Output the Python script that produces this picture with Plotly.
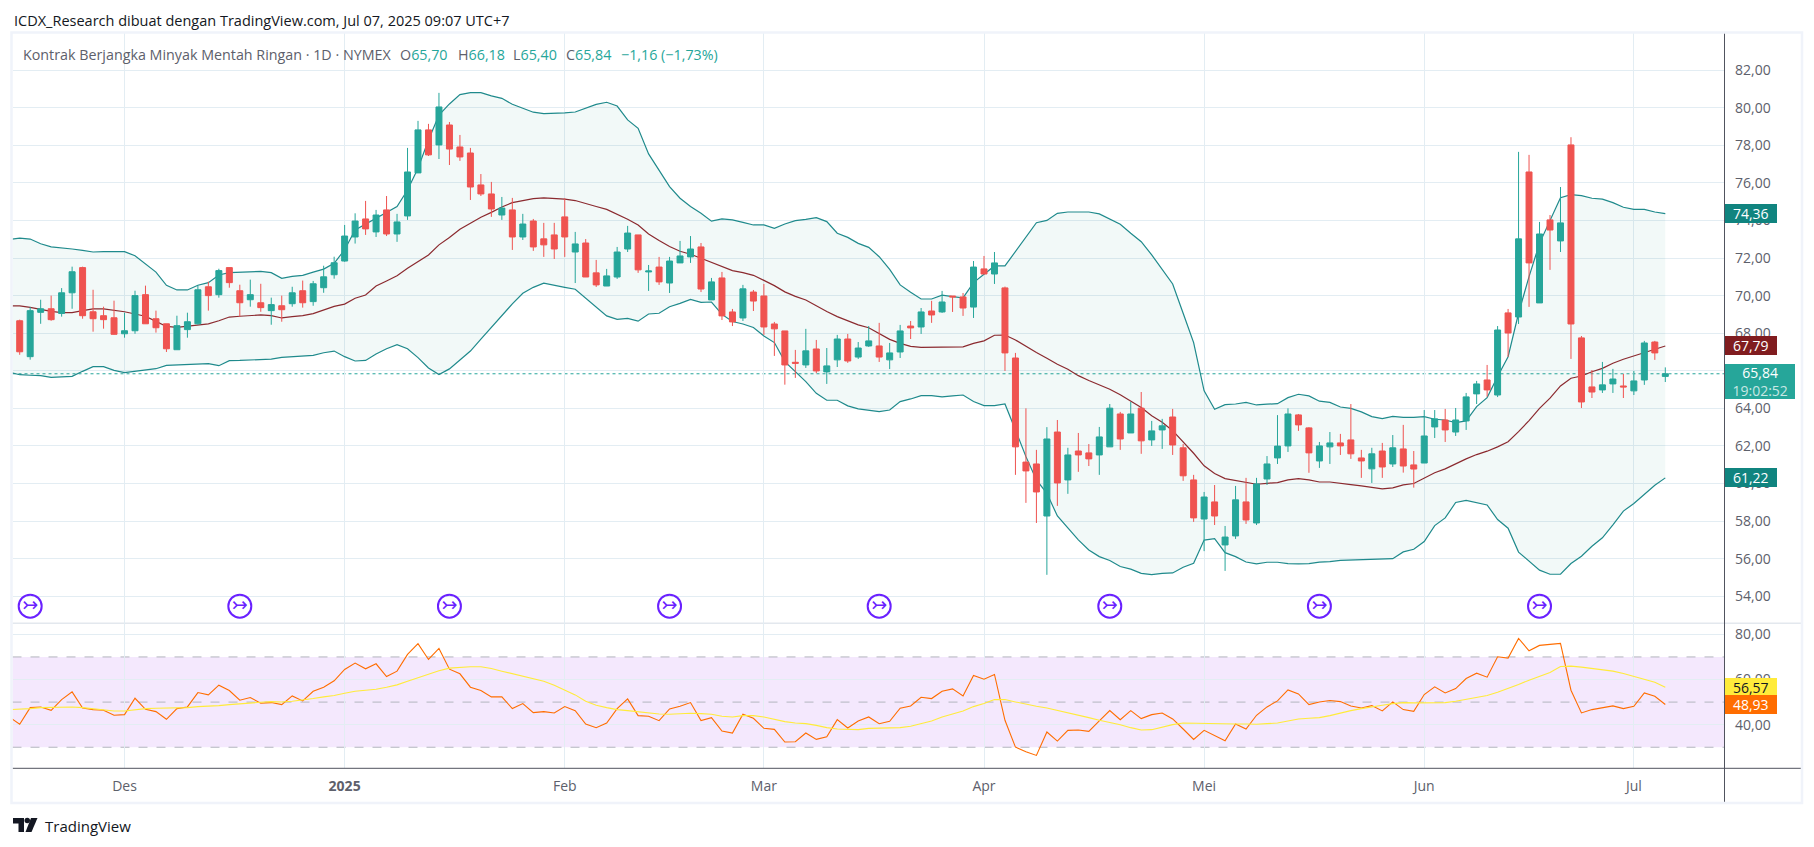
import plotly.graph_objects as go

# Satu baris = 10 bar
opens = [
    68.66, 66.75, 69.11, 69.3, 69.05, 70.15, 71.49, 69.14, 68.93, 68.82,
    67.97, 68.13, 70.05, 68.77, 68.5, 67.12, 68.19, 68.5, 70.47, 70.05,
    71.49, 70.26, 69.78, 69.62, 69.2, 69.46, 69.57, 70.26, 69.68, 70.42,
    71.11, 71.84, 73.12, 74.08, 73.39, 74.56, 73.28, 74.24, 76.53, 78.82,
    78.02, 79.08, 77.91, 77.59, 75.89, 75.41, 74.29, 74.56, 73.12, 73.97,
    73.02, 73.23, 74.19, 72.32, 72.8, 71.21, 70.51, 70.99, 72.48, 73.23,
    71.26, 71.52, 70.67, 71.74, 72.06, 72.59, 69.77, 70.94, 69.13, 68.81,
    70.19, 69.98, 68.49, 68.12, 66.45, 66.31, 67.16, 65.94, 66.58, 67.69,
    66.73, 67.32, 67.32, 66.58, 67.0, 68.38, 68.33, 69.18, 69.13, 69.98,
    69.93, 69.39, 71.42, 71.15, 70.41, 66.68, 61.14, 61.04, 58.27, 62.74,
    60.19, 61.73, 61.63, 61.52, 61.95, 63.7, 62.69, 64.01, 62.32, 62.85,
    63.54, 61.9, 60.19, 58.11, 59.02, 56.73, 57.21, 59.02, 57.9, 60.24,
    61.36, 62.0, 63.65, 62.96, 61.2, 61.95, 62.16, 62.32, 61.36, 60.78,
    61.73, 61.04, 61.84, 60.99, 61.09, 63.01, 63.38, 62.74, 63.33, 64.77,
    65.51, 64.71, 69.08, 68.86, 76.58, 69.61, 74.03, 72.91, 78.02, 67.75,
    65.14, 64.98, 65.3, 65.19, 64.93, 65.51, 67.53, 65.70,
]
highs = [
    68.72, 69.39, 69.78, 70.0, 70.4, 71.54, 71.54, 70.31, 69.41, 69.73,
    69.09, 70.26, 70.53, 69.2, 68.5, 68.93, 69.09, 70.53, 70.74, 71.43,
    71.49, 70.58, 70.85, 70.63, 69.89, 70.0, 70.47, 70.8, 70.78, 71.59,
    72.07, 73.76, 74.38, 75.04, 74.56, 75.3, 74.35, 77.86, 79.3, 79.14,
    80.79, 79.24, 78.55, 77.86, 76.47, 76.05, 75.25, 75.2, 74.35, 74.08,
    73.87, 73.87, 75.18, 73.39, 73.01, 71.9, 71.42, 72.59, 73.71, 73.23,
    71.63, 72.06, 72.06, 72.91, 73.17, 72.8, 70.94, 71.26, 69.29, 70.57,
    70.3, 70.62, 68.6, 68.12, 67.11, 68.23, 67.64, 67.21, 67.91, 67.96,
    67.53, 68.38, 68.55, 67.48, 68.44, 68.65, 69.34, 69.72, 70.25, 69.98,
    70.14, 71.84, 72.11, 72.32, 70.48, 66.95, 64.0, 61.79, 63.0, 63.38,
    61.9, 62.69, 62.1, 63.01, 64.23, 63.81, 64.34, 64.87, 63.33, 63.44,
    63.97, 62.1, 60.46, 59.55, 59.92, 57.74, 59.87, 60.3, 60.3, 61.46,
    63.64, 64.0, 63.7, 63.0, 62.21, 62.74, 62.64, 64.23, 61.79, 61.9,
    62.16, 62.58, 63.12, 61.73, 63.91, 63.91, 63.97, 64.02, 64.82, 65.46,
    66.31, 68.38, 69.29, 77.65, 77.49, 73.92, 74.29, 75.78, 78.43, 67.85,
    66.04, 66.47, 66.1, 65.83, 65.99, 67.59, 67.59, 66.18,
]
lows = [
    66.85, 66.59, 68.5, 68.66, 68.88, 69.3, 68.77, 68.08, 68.24, 67.92,
    67.76, 67.97, 68.5, 68.03, 67.0, 67.12, 67.76, 68.45, 69.2, 69.89,
    70.42, 68.88, 69.41, 69.14, 68.45, 68.61, 69.41, 69.36, 69.46, 70.15,
    70.9, 71.8, 72.77, 73.23, 73.12, 73.17, 72.86, 74.03, 76.53, 77.43,
    77.27, 76.95, 77.17, 75.09, 75.3, 74.19, 74.03, 72.43, 72.96, 72.38,
    72.06, 71.95, 72.06, 70.67, 70.99, 70.46, 70.51, 70.89, 72.32, 71.21,
    70.25, 70.57, 70.14, 71.74, 71.74, 70.19, 69.77, 68.7, 68.38, 68.65,
    69.18, 67.91, 66.79, 65.26, 65.62, 66.15, 65.87, 65.3, 66.2, 66.42,
    66.63, 67.27, 66.47, 66.09, 66.68, 67.69, 67.96, 68.55, 69.08, 69.13,
    68.92, 68.81, 71.15, 70.62, 65.99, 60.46, 58.97, 57.9, 55.14, 58.81,
    59.45, 60.62, 60.93, 60.46, 61.95, 61.79, 62.69, 61.58, 62.0, 61.84,
    61.52, 60.14, 57.96, 56.4, 57.79, 55.35, 57.05, 57.85, 57.79, 59.92,
    61.04, 61.68, 62.8, 60.57, 60.83, 61.04, 61.52, 61.31, 60.3, 60.03,
    60.3, 60.88, 60.58, 59.78, 61.09, 62.42, 62.21, 62.53, 62.85, 64.23,
    64.62, 64.6, 66.74, 68.49, 69.4, 69.61, 71.37, 72.32, 66.63, 64.02,
    64.55, 64.82, 64.82, 64.55, 64.71, 65.25, 66.58, 65.40,
]
closes = [
    67.01, 69.2, 69.3, 68.72, 70.15, 71.27, 68.93, 68.77, 68.72, 67.94,
    68.13, 70.0, 68.5, 68.29, 67.17, 68.4, 68.61, 70.31, 70.0, 71.33,
    70.69, 69.62, 70.05, 69.36, 69.52, 69.25, 70.15, 69.62, 70.63, 71.0,
    71.75, 73.17, 73.97, 73.55, 74.29, 73.28, 73.92, 76.58, 78.82, 77.49,
    80.04, 77.8, 77.38, 75.78, 75.41, 74.61, 74.66, 73.12, 73.81, 72.59,
    72.7, 72.48, 73.12, 72.75, 70.99, 70.57, 71.05, 72.32, 73.33, 71.37,
    71.31, 70.73, 71.84, 72.11, 72.48, 70.35, 70.73, 68.92, 68.6, 70.36,
    69.71, 68.33, 68.23, 66.31, 66.4, 67.06, 65.99, 66.26, 67.69, 66.52,
    67.21, 67.59, 66.73, 66.95, 68.12, 68.28, 69.13, 68.97, 69.66, 69.93,
    69.34, 71.52, 71.15, 71.74, 66.95, 61.95, 60.67, 59.55, 62.37, 60.03,
    61.52, 61.52, 61.31, 62.48, 64.01, 62.37, 63.7, 62.27, 62.8, 63.07,
    62.05, 60.41, 58.17, 59.28, 58.27, 57.15, 59.13, 58.06, 59.98, 61.04,
    61.99, 63.7, 63.12, 61.63, 62.0, 62.16, 62.0, 61.58, 61.2, 61.58,
    60.88, 61.9, 60.93, 60.77, 62.53, 63.44, 62.85, 63.38, 64.61, 65.3,
    64.98, 68.17, 68.01, 73.02, 71.74, 73.28, 73.49, 73.87, 68.49, 64.34,
    64.87, 65.25, 65.56, 65.14, 65.46, 67.48, 66.95, 65.84,
]

# Bollinger: nilai pertama = bar sebelum bar pertama (masuk dari tepi kiri)
bb_upper = [
    72.98,
    73.06, 73.01, 72.76, 72.59, 72.55, 72.48, 72.41, 72.32, 72.34, 72.34,
    72.34, 72.12, 71.7, 71.25, 70.55, 70.3, 70.3, 70.55, 70.69, 71.1,
    71.22, 71.25, 71.29, 71.29, 71.22, 70.92, 71.02, 71.08, 71.25, 71.41,
    71.72, 72.44, 73.49, 73.81, 74.11, 74.43, 74.74, 75.62, 76.78, 78.28,
    79.61, 80.2, 80.7, 80.8, 80.8, 80.63, 80.5, 80.18, 79.97, 79.76,
    79.69, 79.7, 79.72, 79.77, 79.97, 80.18, 80.29, 80.09, 79.35, 78.9,
    77.54, 76.69, 75.8, 75.18, 74.74, 74.38, 73.96, 74.08, 74.03, 73.9,
    73.76, 73.76, 73.58, 73.81, 73.99, 74.06, 74.15, 73.94, 73.32, 73.1,
    72.78, 72.57, 72.07, 71.4, 70.57, 70.18, 69.82, 69.82, 70.02, 69.95,
    69.88, 70.69, 71.15, 71.58, 71.58, 72.34, 73.1, 73.88, 74.0, 74.38,
    74.45, 74.45, 74.45, 74.35, 74.08, 73.8, 73.32, 72.87, 72.17, 71.37,
    70.62, 69.06, 67.5, 64.93, 63.95, 64.2, 64.23, 64.32, 64.18, 64.22,
    64.25, 64.57, 64.75, 64.66, 64.38, 64.32, 64.07, 64.0, 63.81, 63.56,
    63.45, 63.57, 63.52, 63.52, 63.56, 63.42, 63.38, 63.24, 63.33, 64.09,
    64.57, 65.69, 66.75, 69.06, 71.01, 72.78, 74.03, 75.21, 75.37, 75.32,
    75.18, 75.13, 74.95, 74.7, 74.59, 74.59, 74.45, 74.36,
]
bb_basis = [
    69.46,
    69.45, 69.37, 69.25, 69.16, 69.09, 69.09, 69.2, 69.29, 69.29, 69.21,
    69.14, 69.02, 68.9, 68.63, 68.36, 68.31, 68.36, 68.45, 68.5, 68.66,
    68.86, 68.9, 68.95, 68.97, 68.93, 68.81, 68.88, 68.93, 69.04, 69.25,
    69.43, 69.55, 69.86, 70.03, 70.51, 70.78, 71.06, 71.45, 71.81, 72.16,
    72.7, 73.09, 73.53, 73.85, 74.17, 74.43, 74.72, 74.95, 75.07, 75.16,
    75.2, 75.18, 75.13, 75.06, 74.88, 74.74, 74.59, 74.33, 74.06, 73.76,
    73.28, 72.93, 72.61, 72.36, 72.2, 71.99, 71.76, 71.54, 71.33, 71.22,
    71.08, 70.81, 70.53, 70.2, 69.96, 69.77, 69.45, 69.15, 68.88, 68.65,
    68.44, 68.29, 67.96, 67.67, 67.46, 67.3, 67.25, 67.25, 67.28, 67.28,
    67.27, 67.46, 67.59, 67.89, 67.9, 67.64, 67.29, 66.97, 66.67, 66.35,
    66.08, 65.74, 65.48, 65.25, 65.02, 64.72, 64.38, 64.04, 63.61, 63.26,
    62.81, 62.23, 61.61, 60.94, 60.53, 60.26, 60.17, 60.06, 59.96, 60.01,
    60.05, 60.19, 60.26, 60.19, 60.08, 60.08, 59.99, 59.94, 59.87, 59.78,
    59.71, 59.77, 59.93, 60.0, 60.27, 60.57, 60.78, 61.06, 61.31, 61.54,
    61.72, 61.95, 62.22, 62.76, 63.35, 64.0, 64.54, 65.19, 65.6, 65.72,
    65.95, 66.13, 66.4, 66.61, 66.79, 66.98, 67.14, 67.32,
]
bb_lower = [
    65.93,
    65.79, 65.76, 65.74, 65.65, 65.67, 65.7, 65.97, 66.22, 66.22, 66.02,
    65.9, 65.97, 66.04, 66.11, 66.29, 66.31, 66.36, 66.38, 66.38, 66.27,
    66.54, 66.55, 66.57, 66.59, 66.62, 66.71, 66.75, 66.78, 66.82, 66.96,
    67.05, 66.75, 66.52, 66.55, 66.89, 67.17, 67.39, 67.17, 66.7, 66.15,
    65.8, 66.1, 66.55, 67.05, 67.68, 68.3, 68.93, 69.56, 70.12, 70.44,
    70.66, 70.57, 70.44, 70.34, 69.86, 69.38, 68.92, 68.74, 68.79, 68.64,
    69.02, 69.06, 69.41, 69.59, 69.8, 69.64, 69.66, 69.0, 68.62, 68.49,
    68.3, 67.85, 67.5, 66.49, 65.95, 65.42, 64.8, 64.43, 64.43, 64.13,
    63.97, 63.88, 63.83, 63.91, 64.36, 64.5, 64.68, 64.68, 64.61, 64.66,
    64.71, 64.36, 64.15, 64.15, 64.23, 62.85, 61.43, 60.19, 59.48, 58.27,
    57.62, 57.0, 56.46, 56.11, 55.9, 55.58, 55.44, 55.22, 55.15, 55.22,
    55.24, 55.54, 55.75, 56.99, 57.06, 56.32, 56.11, 55.82, 55.72, 55.81,
    55.81, 55.74, 55.72, 55.74, 55.82, 55.84, 55.91, 55.93, 55.95, 55.98,
    56.0, 56.0, 56.36, 56.5, 56.91, 57.76, 58.17, 58.99, 59.1, 58.97,
    58.86, 58.08, 57.62, 56.35, 55.88, 55.39, 55.17, 55.17, 55.74, 56.13,
    56.66, 57.11, 57.8, 58.53, 58.94, 59.43, 59.91, 60.3,
]

rsi = [
    43.4,
    40.15, 47.56, 47.85, 46.37, 51.11, 54.52, 47.41, 46.67, 46.37, 44.15,
    44.44, 51.7, 46.81, 45.78, 42.37, 47.11, 47.85, 54.22, 53.19, 57.48,
    55.11, 50.81, 52.0, 49.48, 49.78, 48.89, 52.74, 50.52, 54.81, 56.59,
    59.41, 64.44, 67.26, 64.74, 66.96, 61.33, 63.7, 71.11, 75.85, 68.89,
    73.78, 64.59, 62.52, 56.59, 55.11, 52.3, 52.3, 47.11, 49.33, 45.33,
    45.78, 45.19, 48.0, 46.22, 40.3, 38.67, 40.74, 47.11, 51.41, 44.0,
    43.7, 41.78, 46.96, 48.15, 49.78, 41.78, 43.11, 37.19, 36.3, 44.59,
    42.81, 38.37, 37.93, 32.3, 32.44, 36.3, 33.48, 34.67, 42.22, 38.52,
    41.63, 43.41, 40.44, 41.48, 47.26, 48.3, 52.15, 51.56, 54.81, 55.85,
    52.74, 61.78, 60.15, 62.22, 41.93, 30.07, 28.0, 26.37, 36.74, 32.74,
    37.48, 37.63, 37.04, 41.63, 46.22, 42.22, 46.22, 42.67, 44.44, 45.19,
    42.52, 38.07, 33.48, 37.48, 35.11, 32.89, 40.3, 38.07, 44.15, 47.85,
    50.52, 55.41, 53.63, 48.89, 50.07, 50.67, 50.22, 48.3, 47.41, 48.44,
    46.07, 50.07, 46.67, 45.93, 53.33, 56.74, 54.07, 56.0, 60.44, 62.81,
    61.04, 70.07, 69.48, 78.22, 72.74, 75.11, 75.56, 76.0, 55.26, 45.19,
    46.67, 47.56, 48.3, 47.11, 48.15, 54.07, 52.59, 48.93,
]
rsi_ma = [
    46.67,
    46.81, 47.11, 47.56, 47.7, 47.85, 47.85, 47.56, 47.11, 46.52, 46.07,
    46.07, 46.67, 47.11, 47.26, 47.26, 47.41, 47.56, 48.0, 48.15, 48.44,
    48.89, 49.33, 49.63, 49.93, 50.22, 50.07, 50.37, 50.81, 51.56, 52.3,
    52.89, 53.93, 54.81, 55.26, 55.7, 56.59, 57.63, 59.26, 60.89, 62.37,
    63.85, 65.04, 65.48, 65.63, 65.63, 64.89, 63.7, 62.67, 61.48, 60.44,
    59.26, 57.48, 55.26, 53.19, 50.37, 48.59, 47.56, 46.67, 46.22, 45.63,
    45.19, 44.74, 44.59, 44.89, 45.04, 44.89, 44.59, 43.7, 43.41, 44.0,
    44.0, 43.41, 42.22, 41.33, 40.74, 40.44, 39.7, 38.67, 38.07, 37.78,
    37.78, 38.37, 38.52, 38.37, 38.67, 39.26, 40.44, 41.63, 43.41, 44.74,
    46.07, 48.0, 49.33, 51.11, 51.11, 50.07, 49.04, 48.15, 47.41, 46.37,
    45.48, 44.3, 43.11, 41.93, 41.04, 40.0, 38.67, 37.63, 37.78, 38.96,
    40.0, 40.74, 40.59, 40.74, 40.59, 40.44, 40.3, 40.3, 40.15, 40.44,
    40.74, 41.63, 42.52, 42.81, 43.11, 44.0, 45.19, 46.22, 47.11, 48.0,
    48.59, 49.33, 49.78, 49.63, 49.63, 49.63, 49.78, 50.37, 51.26, 52.0,
    52.89, 54.37, 56.0, 57.78, 59.7, 61.48, 63.11, 65.78, 65.93, 65.48,
    64.89, 64.3, 63.7, 62.67, 61.48, 60.3, 58.81, 56.57,
]

month_bars = [10, 31, 52, 71, 92, 113, 134, 154]
month_labels = ["Des", "<b>2025</b>", "Feb", "Mar", "Apr", "Mei", "Jun", "Jul"]
event_bars = [1, 21, 41, 62, 82, 104, 124, 145]
event_level = 53.47
price_ticks = [54, 56, 58, 60, 62, 64, 66, 68, 70, 72, 74, 76, 78, 80, 82]
rsi_ticks = [40, 60, 80]
rsi_dashes = [30, 50, 70]

TITLE = "ICDX_Research dibuat dengan TradingView.com, Jul 07, 2025 09:07 UTC+7"
SYMBOL = "Kontrak Berjangka Minyak Mentah Ringan · 1D · NYMEX"
last_ohlc = [("O", "65,70"), ("H", "66,18"), ("L", "65,40"), ("C", "65,84")]
CHANGE = "−1,16 (−1,73%)"

W, H = 1814, 847
FONT = "Open Sans"
UP, DOWN = "#26a69a", "#ef5350"
GRID = "#e3edf3"
TEXT = "#5d606b"

bars = list(range(len(closes)))
line_x = list(range(-1, len(closes)))


def px(x):
    return x / W


def py(y):
    return 1 - y / H


x_range = [-0.687, 162.6]
price_range = [52.56, 83.96]
rsi_range = [20.67, 84.9]
x_domain = [px(12.5), px(1724)]

fig = go.Figure()

# isi band dan garis ada di sumbu bawah, candle di sumbu overlay supaya di atas garis
fig.add_trace(go.Scatter(x=line_x, y=bb_lower, mode="lines", line=dict(color="#1f8a8c", width=1.2),
                         xaxis="x", yaxis="y", hoverinfo="skip"))
fig.add_trace(go.Scatter(x=line_x, y=bb_upper, mode="lines", line=dict(color="#1f8a8c", width=1.2),
                         fill="tonexty", fillcolor="rgba(0,137,123,0.05)",
                         xaxis="x", yaxis="y", hoverinfo="skip"))
fig.add_trace(go.Scatter(x=line_x, y=bb_basis, mode="lines", line=dict(color="#8b2a2f", width=1.2),
                         xaxis="x", yaxis="y", hoverinfo="skip"))
fig.add_trace(go.Candlestick(x=bars, open=opens, high=highs, low=lows, close=closes,
                             increasing=dict(line=dict(color=UP, width=1), fillcolor=UP),
                             decreasing=dict(line=dict(color=DOWN, width=1), fillcolor=DOWN),
                             whiskerwidth=0, xaxis="x3", yaxis="y3"))
fig.add_trace(go.Scatter(x=event_bars, y=[event_level] * len(event_bars), mode="markers+text",
                         marker=dict(symbol="circle-open", size=23, color="#6a21ff", line=dict(width=2, color="#6a21ff")),
                         text=["↣"] * len(event_bars), textposition="middle center",
                         textfont=dict(family="DejaVu Sans", size=19, color="#6a21ff"),
                         xaxis="x3", yaxis="y3", hoverinfo="skip"))
fig.add_trace(go.Scatter(x=line_x, y=rsi, mode="lines", line=dict(color="#ff6d00", width=1.1),
                         xaxis="x2", yaxis="y2", hoverinfo="skip"))
fig.add_trace(go.Scatter(x=line_x, y=rsi_ma, mode="lines", line=dict(color="#ffeb3b", width=1.1),
                         xaxis="x2", yaxis="y2", hoverinfo="skip"))

shapes = [
    # pita RSI dan garis putus-putus
    dict(type="rect", xref="x2 domain", yref="y2", x0=0, x1=1, y0=30, y1=70,
         fillcolor="rgba(135,0,235,0.09)", line_width=0, layer="below"),
    # harga terakhir
    dict(type="line", xref="x domain", yref="y", x0=0, x1=1, y0=closes[-1], y1=closes[-1],
         line=dict(color=UP, width=1, dash="dot"), layer="below"),
    # pemisah panel
    dict(type="line", xref="paper", yref="paper", x0=px(12.5), x1=px(1801), y0=py(623.3), y1=py(623.3),
         line=dict(color="#e3e8ee", width=1.5), layer="below"),
    # sumbu
    dict(type="line", xref="paper", yref="paper", x0=px(1724.5), x1=px(1724.5), y0=py(33), y1=py(802),
         line=dict(color="#50535e", width=1)),
    dict(type="line", xref="paper", yref="paper", x0=px(12.5), x1=px(1801), y0=py(768.3), y1=py(768.3),
         line=dict(color="#50535e", width=1)),
    # bingkai
    dict(type="rect", xref="paper", yref="paper", x0=px(11.5), x1=px(1802), y0=py(32.5), y1=py(803),
         line=dict(color="#f0f3fa", width=2.5)),
    # logo
    dict(type="path", xref="paper", yref="paper", fillcolor="#131722", line_width=0,
         path=f"M{px(13)},{py(818)} H{px(24)} V{py(832)} H{px(18.5)} V{py(823.5)} H{px(13)} Z"),
    dict(type="circle", xref="paper", yref="paper", fillcolor="#131722", line_width=0,
         x0=px(24.5), x1=px(30), y0=py(823.3), y1=py(817.8)),
    dict(type="path", xref="paper", yref="paper", fillcolor="#131722", line_width=0,
         path=f"M{px(31)},{py(818)} H{px(37.5)} L{px(31.5)},{py(832)} H{px(25.5)} Z"),
]
for level in rsi_dashes:
    shapes.append(dict(type="line", xref="x2 domain", yref="y2", x0=0, x1=1, y0=level, y1=level,
                       line=dict(color="#b2b5be", width=1, dash="dash"), layer="below"))


def note(x, y, text, size=14, color=TEXT, **kw):
    return dict(xref="paper", yref="paper", x=px(x), y=py(y), text=text, showarrow=False, xanchor="left",
                yanchor="middle", font=dict(family=FONT, size=size, color=color), **kw)


def price_tag(value, yref, text, bg, fg, width=51.5, height=18.7, **kw):
    return dict(xref="paper", yref=yref, x=px(1724.7), y=value, text=text, showarrow=False, xanchor="left",
                yanchor="middle", width=width, height=height, align="center", bgcolor=bg, borderpad=0,
                borderwidth=0, font=dict(family=FONT, size=14, color=fg), **kw)


annotations = [
    note(12, 20, TITLE, size=14.5, color="#131722"),
    note(21, 54, SYMBOL, size=14.3),
    note(619, 54, CHANGE, size=14.3, color=UP),
    note(42.5, 825.5, "TradingView", size=15, color="#131722"),
    price_tag(bb_upper[-1], "y", "74,36", "#10847f", "white"),
    price_tag(bb_basis[-1], "y", "67,79", "#801c1f", "white"),
    price_tag(bb_lower[-1], "y", "61,22", "#10847f", "white"),
    price_tag(closes[-1], "y", "65,84<br><span style='color:rgba(255,255,255,0.75)'>19:02:52</span>",
              UP, "white", width=70.3, height=34.7, yshift=-7.5),
    price_tag(rsi_ma[-1], "y2", "56,57", "#ffeb3b", "#131722"),
    price_tag(rsi[-1], "y2", "48,93", "#ff6d00", "white"),
]
for (name, value), x in zip(last_ohlc, [398, 456, 511, 564]):
    annotations.append(note(x, 54, f"{name}<span style='color:{UP}'>{value}</span>", size=14.3))

axis_font = dict(family=FONT, size=14, color=TEXT)
fig.update_layout(
    width=W, height=H, margin=dict(l=0, r=0, t=0, b=0),
    paper_bgcolor="white", plot_bgcolor="white",
    showlegend=False, separators=",.", boxgap=0.43, boxgroupgap=0,
    shapes=shapes, annotations=annotations,
    xaxis=dict(domain=x_domain, range=x_range, anchor="y", tickvals=month_bars, showticklabels=False,
               showgrid=True, gridcolor=GRID, gridwidth=1, zeroline=False, ticks="", rangeslider_visible=False),
    yaxis=dict(domain=[py(623.3), py(33.3)], range=price_range, anchor="x", side="right", tickvals=price_ticks,
               tickformat=".2f", showgrid=True, gridcolor=GRID, gridwidth=1, zeroline=False, ticks="",
               tickfont=axis_font, ticklabelstandoff=10),
    xaxis2=dict(domain=x_domain, range=x_range, anchor="y2", tickvals=month_bars, ticktext=month_labels,
                showgrid=True, gridcolor=GRID, gridwidth=1, zeroline=False, ticks="",
                tickfont=axis_font, ticklabelstandoff=8),
    yaxis2=dict(domain=[py(768.3), py(623.3)], range=rsi_range, anchor="x2", side="right", tickvals=rsi_ticks,
                tickformat=".2f", showgrid=True, gridcolor=GRID, gridwidth=1, zeroline=False, ticks="",
                tickfont=axis_font, ticklabelstandoff=10),
    xaxis3=dict(overlaying="x", range=x_range, anchor="y3", visible=False, rangeslider_visible=False),
    yaxis3=dict(overlaying="y", range=price_range, anchor="x3", visible=False),
)

fig.write_html("out.html", config={"displayModeBar": False},
               post_script="document.body.style.margin='0';document.documentElement.style.overflow='hidden';")
